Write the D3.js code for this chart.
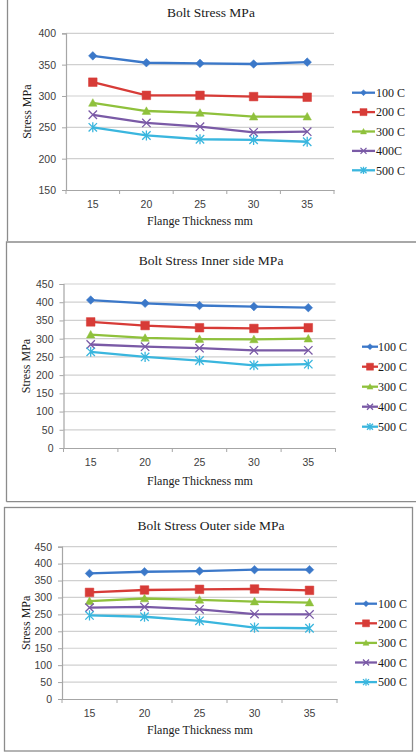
<!DOCTYPE html>
<html>
<head>
<meta charset="utf-8">
<script src="https://cdn.jsdelivr.net/npm/d3@7"></script>
<style>
  html, body { margin: 0; padding: 0; background: #fff; }
  svg { display: block; }
</style>
</head>
<body>
<svg id="chart" width="416" height="754"></svg>
<script>
// ---------------- DATA ----------------
const categories = [15, 20, 25, 30, 35];
const seriesNames1 = ["100 C", "200 C", "300 C", "400C", "500 C"];
const seriesNames23 = ["100 C", "200 C", "300 C", "400 C", "500 C"];
const titles = ["Bolt Stress MPa", "Bolt Stress Inner side MPa", "Bolt Stress Outer side MPa"];
const xTitle = "Flange Thickness mm";
const yTitle = "Stress MPa";
const yTicks1 = [150, 200, 250, 300, 350, 400];
const yTicks23 = [0, 50, 100, 150, 200, 250, 300, 350, 400, 450];

// Panel 1: Bolt Stress
const p1_100 = [364, 353, 352, 351, 354];
const p1_200 = [322, 301, 301, 299, 298];
const p1_300 = [289, 276, 273, 267, 267];
const p1_400 = [270, 257, 251, 242, 243];
const p1_500 = [250, 237, 231, 230, 227];
// Panel 2: Inner side
const p2_100 = [406, 397, 391, 388, 385];
const p2_200 = [346, 336, 330, 328, 330];
const p2_300 = [311, 302, 299, 298, 300];
const p2_400 = [284, 278, 274, 268, 268];
const p2_500 = [264, 250, 240, 227, 230];
// Panel 3: Outer side
const p3_100 = [371, 376, 378, 382, 382];
const p3_200 = [315, 322, 324, 325, 321];
const p3_300 = [289, 297, 293, 288, 285];
const p3_400 = [270, 272, 265, 251, 250];
const p3_500 = [247, 243, 231, 211, 209];

// ---------------- STYLE ----------------
const colors = ["#3b78c9", "#d73b37", "#8fc13c", "#7a5aa6", "#3ab6de"];
const markers = ["diamond", "square", "triangle", "x", "star"];
const serif = "'Liberation Serif', 'Times New Roman', serif";
const sans = "'Liberation Sans', Arial, sans-serif";

const panels = [
  { title: titles[0], names: seriesNames1, series: [p1_100, p1_200, p1_300, p1_400, p1_500],
    ticks: yTicks1, domain: [150, 400],
    x0: 66, x1: 334, yTop: 33.3, yBot: 190, titleY: 17, xTitleY: 225, yTitleX: 31,
    legX0: 352, legX1: 375, legTX: 376, legY0: 92.7, legDy: 19.4 },
  { title: titles[1], names: seriesNames23, series: [p2_100, p2_200, p2_300, p2_400, p2_500],
    ticks: yTicks23, domain: [0, 450],
    x0: 63.5, x1: 335.5, yTop: 284, yBot: 448, titleY: 265, xTitleY: 485, yTitleX: 30,
    legX0: 362, legX1: 378, legTX: 378, legY0: 346.7, legDy: 20 },
  { title: titles[2], names: seriesNames23, series: [p3_100, p3_200, p3_300, p3_400, p3_500],
    ticks: yTicks23, domain: [0, 450],
    x0: 62, x1: 337, yTop: 546.7, yBot: 699, titleY: 530, xTitleY: 734, yTitleX: 29.5,
    legX0: 355, legX1: 377, legTX: 378, legY0: 603.7, legDy: 19.6 }
];

const svg = d3.select("#chart");

// Frames
const frame = svg.append("g").attr("fill", "none").attr("stroke", "#8c8c8c").attr("stroke-width", 1.3);
frame.append("line").attr("x1", 7.5).attr("x2", 7.5).attr("y1", 0).attr("y2", 241);
frame.append("path").attr("d", "M6.5,501.7 L6.5,242 L416,242");
frame.append("line").attr("x1", 6.5).attr("x2", 416).attr("y1", 501.7).attr("y2", 501.7);
frame.append("rect").attr("x", 4.5).attr("y", 507.5).attr("width", 408).attr("height", 243.5);

function markerPath(type, s) {
  // s = half-size
  switch (type) {
    case "diamond": return `M0,${-s}L${s},0L0,${s}L${-s},0Z`;
    case "square": return `M${-s},${-s}H${s}V${s}H${-s}Z`;
    case "triangle": return `M0,${-s}L${s},${s * 0.8}L${-s},${s * 0.8}Z`;
    case "x": return `M${-s},${-s}L${s},${s}M${-s},${s}L${s},${-s}`;
    case "star": return `M${-s},${-s}L${s},${s}M${-s},${s}L${s},${-s}M0,${-s * 1.2}L0,${s * 1.2}`;
  }
}
function drawMarker(g, type, color, x, y, s) {
  const filled = type === "diamond" || type === "square" || type === "triangle";
  g.append("path")
    .attr("transform", `translate(${x},${y})`)
    .attr("d", markerPath(type, s))
    .attr("fill", filled ? color : "none")
    .attr("stroke", color)
    .attr("stroke-width", filled ? 0.5 : 1.3);
}

panels.forEach(p => {
  const g = svg.append("g");
  const x = d3.scaleBand().domain(categories).range([p.x0, p.x1]);
  const y = d3.scaleLinear().domain(p.domain).range([p.yBot, p.yTop]);

  // gridlines
  g.append("g").selectAll("line").data(p.ticks.filter(t => t !== p.domain[0])).join("line")
    .attr("x1", p.x0).attr("x2", p.x1)
    .attr("y1", d => y(d)).attr("y2", d => y(d))
    .attr("stroke", "#d0d0d0").attr("stroke-width", 1.2);

  // y axis
  const yAxis = g.append("g").attr("transform", `translate(${p.x0},0)`)
    .call(d3.axisLeft(y).tickValues(p.ticks).tickSize(4).tickPadding(6));
  yAxis.select(".domain").attr("stroke", "#a6a6a6").attr("stroke-width", 1.2);
  yAxis.selectAll(".tick line").attr("stroke", "#a6a6a6");
  yAxis.selectAll("text").attr("font-family", sans).attr("font-size", 10.5).attr("fill", "#404040");

  // x axis
  const xAxis = g.append("g").attr("transform", `translate(0,${p.yBot})`)
    .call(d3.axisBottom(x).tickSize(0).tickPadding(11));
  xAxis.select(".domain").attr("stroke", "#a6a6a6").attr("stroke-width", 1.2);
  xAxis.selectAll("text").attr("font-family", sans).attr("font-size", 10.5).attr("fill", "#404040");
  // tick marks at category boundaries
  const bounds = categories.map(c => x(c)).concat([p.x1]);
  g.append("g").selectAll("line").data(bounds).join("line")
    .attr("x1", d => d).attr("x2", d => d)
    .attr("y1", p.yBot).attr("y2", p.yBot + 4)
    .attr("stroke", "#a6a6a6").attr("stroke-width", 1);

  // titles
  g.append("text").attr("x", 211).attr("y", p.titleY).attr("text-anchor", "middle")
    .attr("font-family", serif).attr("font-size", 13.5).attr("fill", "#1a1a1a").text(p.title);
  g.append("text").attr("x", 200).attr("y", p.xTitleY).attr("text-anchor", "middle")
    .attr("font-family", serif).attr("font-size", 12).attr("fill", "#1a1a1a").text(xTitle);
  const ymid = (p.yTop + p.yBot) / 2;
  g.append("text").attr("transform", `translate(${p.yTitleX},${ymid}) rotate(-90)`)
    .attr("text-anchor", "middle")
    .attr("font-family", serif).attr("font-size", 12).attr("fill", "#1a1a1a").text(yTitle);

  // series
  const line = d3.line().x((d, i) => x(categories[i]) + x.bandwidth() / 2).y(d => y(d));
  p.series.forEach((vals, si) => {
    g.append("path").datum(vals).attr("d", line)
      .attr("fill", "none").attr("stroke", colors[si]).attr("stroke-width", 2.3);
    const mg = g.append("g");
    vals.forEach((v, i) => {
      const s = markers[si] === "square" ? 4.3 : markers[si] === "diamond" ? 4.3 : 4.2;
      drawMarker(mg, markers[si], colors[si], x(categories[i]) + x.bandwidth() / 2, y(v), s);
    });
  });

  // legend
  p.names.forEach((name, si) => {
    const ly = p.legY0 + si * p.legDy;
    g.append("line").attr("x1", p.legX0).attr("x2", p.legX1).attr("y1", ly).attr("y2", ly)
      .attr("stroke", colors[si]).attr("stroke-width", 2.3);
    drawMarker(g, markers[si], colors[si], (p.legX0 + p.legX1) / 2, ly,
      markers[si] === "square" ? 3.5 : 3);
    g.append("text").attr("x", p.legTX).attr("y", ly + 4.2)
      .attr("font-family", serif).attr("font-size", 12).attr("fill", "#1a1a1a").text(name);
  });
});
</script>
</body>
</html>
